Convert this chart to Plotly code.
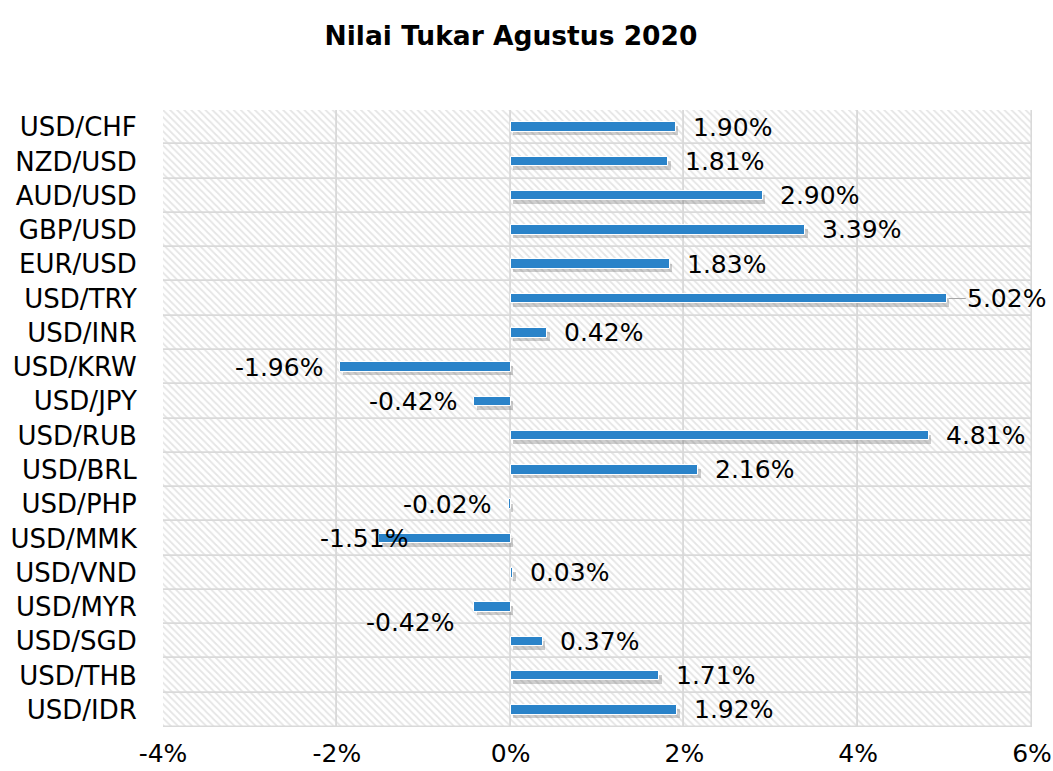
import plotly.graph_objects as go

# ---- data ----
title_text = "Nilai Tukar Agustus 2020"
pairs = ["USD/CHF", "NZD/USD", "AUD/USD", "GBP/USD", "EUR/USD", "USD/TRY",
         "USD/INR", "USD/KRW", "USD/JPY", "USD/RUB", "USD/BRL", "USD/PHP",
         "USD/MMK", "USD/VND", "USD/MYR", "USD/SGD", "USD/THB", "USD/IDR"]
changes = [1.90, 1.81, 2.90, 3.39, 1.83, 5.02,
           0.42, -1.96, -0.42, 4.81, 2.16, -0.02,
           -1.51, 0.03, -0.42, 0.37, 1.71, 1.92]
x_tick_vals = [-4, -2, 0, 2, 4, 6]
x_tick_text = ["-4%", "-2%", "0%", "2%", "4%", "6%"]

# ---- styling ----
FONT = "DejaVu Sans"
BLUE = "#2A83C9"
GRID = "#d9d9d9"
n = len(pairs)
ypos = [n - 1 - i for i in range(n)]
xmin, xmax = x_tick_vals[0], x_tick_vals[-1]
step = x_tick_vals[1] - x_tick_vals[0]

fig = go.Figure()

# hatched background cells (also draw the grid lines via outlines)
for k in range(len(x_tick_vals) - 1):
    fig.add_trace(go.Bar(
        x=[step] * n, y=ypos, base=[x_tick_vals[k]] * n, orientation="h",
        width=1.0,
        marker=dict(color="white",
                    line=dict(color=GRID, width=1.6),
                    pattern=dict(shape="\\", fgcolor="#cbcbcb", bgcolor="white",
                                 size=5, solidity=0.35)),
        hoverinfo="skip", showlegend=False))

# shadow
fig.add_trace(go.Bar(
    x=changes, y=[p - 0.11 for p in ypos], base=[0.03] * n, orientation="h",
    width=0.26,
    marker=dict(color="rgba(80,80,80,0.28)", line=dict(width=0)),
    hoverinfo="skip", showlegend=False))

# data bars
fig.add_trace(go.Bar(
    x=changes, y=ypos, orientation="h", width=0.28,
    marker=dict(color=BLUE, line=dict(color="white", width=1)),
    showlegend=False))

# value labels
special = {"USD/MMK": dict(xanchor="center", xshift=-15, yshift=0),
           "USD/MYR": dict(xanchor="right", xshift=-18, yshift=-15),
           "USD/PHP": dict(xanchor="right", xshift=-16, yshift=0)}
LABEL_FONT = dict(family=FONT, size=25, color="#000000")
for p, v, y in zip(pairs, changes, ypos):
    txt = f"{v:.2f}%"
    if p == "USD/TRY":
        # label pulled away with a short leader line
        fig.add_annotation(x=v, y=y, text=txt, showarrow=True, ax=60, ay=0,
                           arrowhead=0, arrowwidth=1, arrowcolor="#a6a6a6",
                           standoff=2, font=LABEL_FONT)
        continue
    if p in special:
        s = special[p]
    elif v >= 0:
        s = dict(xanchor="left", xshift=15, yshift=0)
    else:
        s = dict(xanchor="right", xshift=-15, yshift=0)
    fig.add_annotation(x=v, y=y, text=txt, showarrow=False,
                       xanchor=s["xanchor"], xshift=s["xshift"], yshift=s["yshift"],
                       yanchor="middle", font=LABEL_FONT)

fig.update_layout(
    width=1053, height=771,
    margin=dict(l=163, r=21, t=110, b=44, autoexpand=False),
    paper_bgcolor="white", plot_bgcolor="white",
    barmode="overlay", bargap=0,
    title=dict(text=f"<b>{title_text}</b>", x=511 / 1053, xanchor="center",
               y=1 - 36 / 771, yanchor="middle",
               font=dict(family=FONT, size=26.5, color="#000000")),
    xaxis=dict(range=[xmin, xmax], tickvals=x_tick_vals, ticktext=x_tick_text,
               showgrid=False, zeroline=False, showline=False, automargin=False,
               ticks="outside", ticklen=4, tickcolor="rgba(0,0,0,0)",
               tickfont=dict(family=FONT, size=25, color="#000000")),
    yaxis=dict(range=[-0.5, n - 0.5], tickvals=ypos, ticktext=pairs,
               showgrid=False, zeroline=False, showline=False, automargin=False,
               ticks="outside", ticklen=20, tickcolor="rgba(0,0,0,0)",
               tickfont=dict(family=FONT, size=26, color="#000000")),
    font=dict(family=FONT),
)

fig.write_html("out.html", config={"displayModeBar": False},
               post_script="document.body.style.margin='0';document.body.style.overflow='hidden';")
